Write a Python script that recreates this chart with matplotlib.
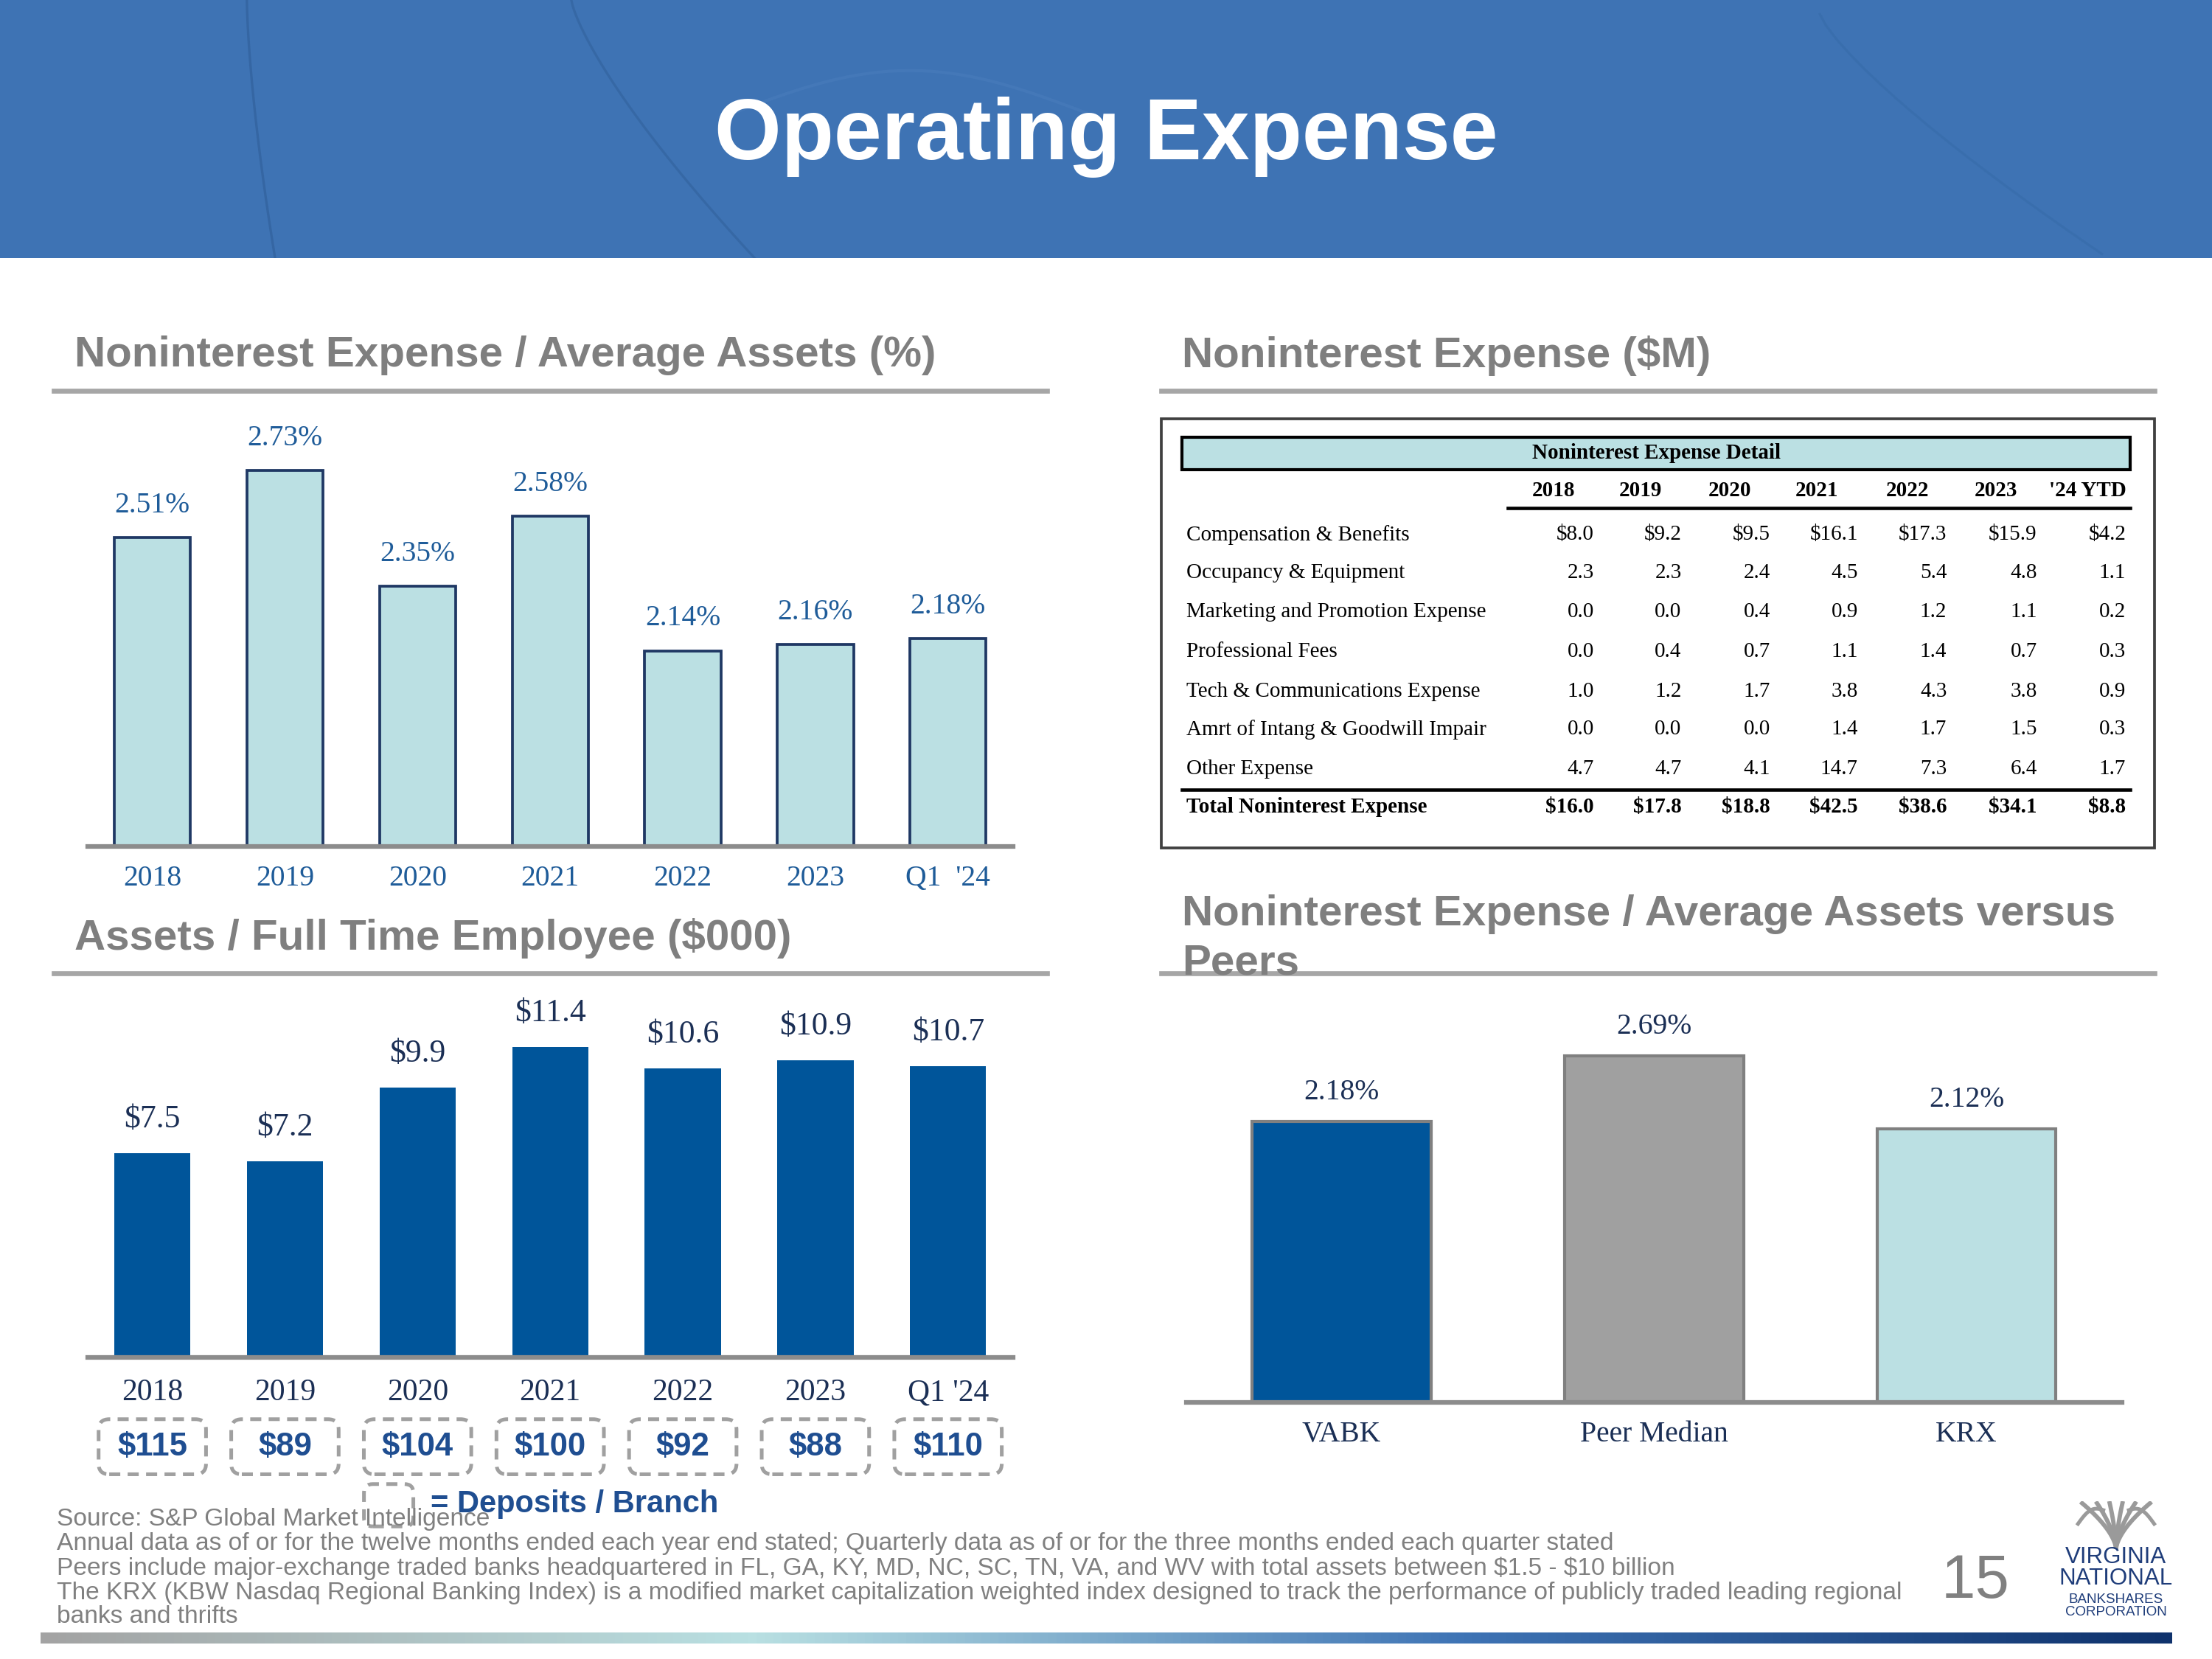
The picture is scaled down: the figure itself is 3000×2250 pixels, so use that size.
import numpy as np
import matplotlib.pyplot as plt
from matplotlib.patches import Rectangle, FancyBboxPatch
from matplotlib.lines import Line2D
from matplotlib.colors import LinearSegmentedColormap

plt.rcParams['text.parse_math'] = False

# ---- data ----
years = ['2018', '2019', '2020', '2021', '2022', '2023', "Q1  '24"]
nie_ratio = [2.51, 2.73, 2.35, 2.58, 2.14, 2.16, 2.18]

years_fte = ['2018', '2019', '2020', '2021', '2022', '2023', "Q1 '24"]
assets_fte = [7.5, 7.2, 9.9, 11.4, 10.6, 10.9, 10.7]
deposits_branch = [115, 89, 104, 100, 92, 88, 110]

peers = ['VABK', 'Peer Median', 'KRX']
peer_ratio = [2.18, 2.69, 2.12]

tbl_cols = ['2018', '2019', '2020', '2021', '2022', '2023', "'24 YTD"]
tbl_labels = ['Compensation & Benefits', 'Occupancy & Equipment',
              'Marketing and Promotion Expense', 'Professional Fees',
              'Tech & Communications Expense', 'Amrt of Intang & Goodwill Impair',
              'Other Expense']
comp = [8.0, 9.2, 9.5, 16.1, 17.3, 15.9, 4.2]
occ = [2.3, 2.3, 2.4, 4.5, 5.4, 4.8, 1.1]
mkt = [0.0, 0.0, 0.4, 0.9, 1.2, 1.1, 0.2]
prof = [0.0, 0.4, 0.7, 1.1, 1.4, 0.7, 0.3]
tech = [1.0, 1.2, 1.7, 3.8, 4.3, 3.8, 0.9]
amrt = [0.0, 0.0, 0.0, 1.4, 1.7, 1.5, 0.3]
other = [4.7, 4.7, 4.1, 14.7, 7.3, 6.4, 1.7]
total = [16.0, 17.8, 18.8, 42.5, 38.6, 34.1, 8.8]

footnotes = [
    'Source: S&P Global Market Intelligence',
    'Annual data as of or for the twelve months ended each year end stated; Quarterly data as of or for the three months ended each quarter stated',
    'Peers include major-exchange traded banks headquartered in FL, GA, KY, MD, NC, SC, TN, VA, and WV with total assets between $1.5 - $10 billion',
    'The KRX (KBW Nasdaq Regional Banking Index) is a modified market capitalization weighted index designed to track the performance of publicly traded leading regional',
    'banks and thrifts',
]

# ---- layout helpers (grid of 1568 x 1176) ----
W, H = 1568, 1176
def fx(x): return x / W
def fy(y): return 1 - y / H
def box(x0, y0, x1, y1): return [x0 / W, 1 - y1 / H, (x1 - x0) / W, (y1 - y0) / H]

SANS = 'Liberation Sans'
SERIF = 'Liberation Serif'
GRAY_T = '#7f7f7f'
TEAL = '#bbe0e3'
NAVY = '#00559a'
DARK = '#1b2f55'

fig = plt.figure(figsize=(10, 7.5), dpi=300, facecolor='white')

def hline(x0, x1, y, color, lw):
    fig.add_artist(Line2D([fx(x0), fx(x1)], [fy(y), fy(y)], color=color, lw=lw))

# header band
ax_h = fig.add_axes(box(0, 0, W, 183))
ax_h.add_patch(Rectangle((0, 0), W, 183, color='#3e73b4'))
t = np.linspace(0, 1, 50)
ax_h.plot(175 + 20 * t ** 1.5, 183 * t, color='#2f5e98', lw=0.8, alpha=0.6)
ax_h.plot(405 + 130 * t ** 1.3, 183 * t, color='#2f5e98', lw=0.8, alpha=0.5)
ax_h.plot(1290 + 200 * t, 10 + 170 * t ** 0.8, color='#356aa8', lw=0.8, alpha=0.5)
ax_h.plot(520 + 250 * t, 80 - 30 * np.sin(np.pi * t), color='#4a7dbd', lw=1.0, alpha=0.5)
ax_h.set_xlim(0, W)
ax_h.set_ylim(183, 0)
ax_h.set_axis_off()
fig.text(0.5, fy(97), 'Operating Expense', ha='center', va='center', fontsize=28,
         weight='bold', color='white', family=SANS)

# section titles
fig.text(fx(53), fy(252), 'Noninterest Expense / Average Assets (%)', va='center',
         fontsize=14, weight='bold', color=GRAY_T, family=SANS)
hline(38, 742, 277, '#a6a6a6', 1.6)
fig.text(fx(838), fy(252), 'Noninterest Expense ($M)', va='center',
         fontsize=14, weight='bold', color=GRAY_T, family=SANS)
hline(823, 1527, 277, '#a6a6a6', 1.6)
fig.text(fx(53), fy(665), 'Assets / Full Time Employee ($000)', va='center',
         fontsize=14, weight='bold', color=GRAY_T, family=SANS)
hline(38, 742, 690, '#a6a6a6', 1.6)
fig.text(fx(838), fy(648), 'Noninterest Expense / Average Assets versus', va='center',
         fontsize=14, weight='bold', color=GRAY_T, family=SANS)
fig.text(fx(838), fy(683), 'Peers', va='center',
         fontsize=14, weight='bold', color=GRAY_T, family=SANS)
hline(823, 1527, 690, '#a6a6a6', 1.6)

def style_axes(ax):
    for s in ['top', 'left', 'right']:
        ax.spines[s].set_visible(False)
    ax.spines['bottom'].set_color('#8c8c8c')
    ax.spines['bottom'].set_linewidth(1.5)
    ax.set_yticks([])
    ax.patch.set_alpha(0)

# chart 1: noninterest expense / average assets
ax1 = fig.add_axes(box(62, 300, 718, 600))
x = np.arange(len(years))
ax1.bar(x, nie_ratio, width=0.574, color=TEAL, edgecolor='#1f3864', linewidth=0.9)
ax1.set_xlim(-0.489, 6.489)
ax1.set_ylim(1.5, 2.884)
style_axes(ax1)
ax1.set_xticks(x, years)
ax1.tick_params(axis='x', length=0, pad=6, labelsize=9.5, labelcolor='#1f5c99')
for lb in ax1.get_xticklabels():
    lb.set_family(SERIF)
for xi, v in zip(x, nie_ratio):
    ax1.annotate(f'{v:.2f}%', (xi, v), xytext=(0, 10.5), textcoords='offset points',
                 ha='center', va='center', fontsize=9.5, color='#1f5c99', family=SERIF)

# chart 2: assets / FTE
ax2 = fig.add_axes(box(62, 700, 718, 962))
ax2.bar(x, assets_fte, width=0.574, color=NAVY)
ax2.set_xlim(-0.489, 6.489)
ax2.set_ylim(0, 13.58)
style_axes(ax2)
ax2.set_xticks(x, years_fte)
ax2.tick_params(axis='x', length=0, pad=7, labelsize=10, labelcolor=DARK)
for lb in ax2.get_xticklabels():
    lb.set_family(SERIF)
for xi, v in zip(x, assets_fte):
    ax2.annotate(f'${v:.1f}', (xi, v), xytext=(0, 11), textcoords='offset points',
                 ha='center', va='center', fontsize=10.5, color=DARK, family=SERIF)
tr = ax2.get_xaxis_transform()
for xi, d in zip(x, deposits_branch):
    ax2.add_patch(FancyBboxPatch((xi - 0.405, -0.317), 0.81, 0.149,
                                 boxstyle='round,pad=0,rounding_size=0.08',
                                 mutation_aspect=0.358, transform=tr, fill=False,
                                 ec='#a0a0a0', ls=(0, (3, 2)), lw=1.2, clip_on=False))
    ax2.text(xi, -0.2425, f'${d}', transform=tr, ha='center', va='center',
             fontsize=10.5, weight='bold', color='#1f4e91', family=SANS)

fig.add_artist(FancyBboxPatch((fx(258), fy(1082)), fx(293) - fx(258), fy(1052) - fy(1082),
                              boxstyle='round,pad=0,rounding_size=0.004',
                              mutation_aspect=1.3, transform=fig.transFigure, fill=False,
                              ec='#a0a0a0', ls=(0, (3, 2)), lw=1.2))
fig.text(fx(305), fy(1066), '= Deposits / Branch', va='center', fontsize=10,
         weight='bold', color='#1f4e91', family=SANS)

# chart 3: versus peers
ax3 = fig.add_axes(box(841, 700, 1504, 994))
xp = np.arange(len(peers))
ax3.bar(xp, peer_ratio, width=0.573, color=[NAVY, '#a0a0a0', TEAL],
        edgecolor='#808080', linewidth=1)
ax3.set_xlim(-0.497, 2.497)
ax3.set_ylim(0, 3.22)
style_axes(ax3)
ax3.set_xticks(xp, peers)
ax3.tick_params(axis='x', length=0, pad=6, labelsize=9.5, labelcolor=DARK)
for lb in ax3.get_xticklabels():
    lb.set_family(SERIF)
for xi, v in zip(xp, peer_ratio):
    ax3.annotate(f'{v:.2f}%', (xi, v), xytext=(0, 9.5), textcoords='offset points',
                 ha='center', va='center', fontsize=9.5, color=DARK, family=SERIF)

# table
fig.add_artist(Rectangle((fx(823), fy(601)), fx(1527) - fx(823), fy(297) - fy(601),
                         transform=fig.transFigure, fill=False, ec='#404040', lw=0.9))
fig.add_artist(Rectangle((fx(838), fy(333)), fx(1510) - fx(838), fy(310) - fy(333),
                         transform=fig.transFigure, fc=TEAL, ec='black', lw=1))
fig.text(fx(1174), fy(321), 'Noninterest Expense Detail', ha='center', va='center',
         fontsize=7, weight='bold', family=SERIF)
col_centers = [1101, 1163, 1226, 1288, 1352, 1415, 1480]
col_rights = [1130, 1192, 1255, 1317, 1380, 1444, 1507]
for c, cx in zip(tbl_cols, col_centers):
    fig.text(fx(cx), fy(348), c, ha='center', va='center', fontsize=7,
             weight='bold', family=SERIF)
hline(1069, 1510, 360, 'black', 1.1)
row_y = [379, 406, 434, 462, 490, 517, 545]
rows = [comp, occ, mkt, prof, tech, amrt, other]
for i, (lab, vals, ry) in enumerate(zip(tbl_labels, rows, row_y)):
    fig.text(fx(841), fy(ry), lab, va='center', fontsize=7, family=SERIF)
    for v, rx in zip(vals, col_rights):
        s = f'${v:.1f}' if i == 0 else f'{v:.1f}'
        fig.text(fx(rx), fy(ry), s, ha='right', va='center', fontsize=7, family=SERIF)
hline(838, 1510, 560, 'black', 1.1)
fig.text(fx(841), fy(572), 'Total Noninterest Expense', va='center', fontsize=7,
         weight='bold', family=SERIF)
for v, rx in zip(total, col_rights):
    fig.text(fx(rx), fy(572), f'${v:.1f}', ha='right', va='center', fontsize=7,
             weight='bold', family=SERIF)

# footnotes
for s, yy in zip(footnotes, [1077, 1094, 1112, 1129, 1146]):
    fig.text(fx(40), fy(yy), s, va='center', fontsize=8.05, color='#808080', family=SANS)

fig.text(fx(1400), fy(1121), '15', ha='center', va='center', fontsize=20,
         color='#808080', family=SANS)

# logo
ax_l = fig.add_axes(box(1470, 1064, 1530, 1098))
tt = np.linspace(0, 1, 40)
for s in [-0.8, -0.45, -0.15, 0.15, 0.45, 0.8]:
    ax_l.plot(s * tt ** 1.6, tt, color='#9a9a9a', lw=1.4)
for sgn in [-1, 1]:
    ax_l.plot(sgn * (0.3 + 0.6 * tt), 0.85 + 0.15 * np.sin(np.pi * tt) - 0.3 * tt,
              color='#9a9a9a', lw=1.2)
ax_l.set_xlim(-1, 1)
ax_l.set_ylim(0, 1.05)
ax_l.set_axis_off()
fig.text(fx(1500), fy(1104), 'VIRGINIA', ha='center', va='center', fontsize=7.5,
         color='#1f3d7a', family=SANS)
fig.text(fx(1500), fy(1119), 'NATIONAL', ha='center', va='center', fontsize=7.5,
         color='#1f3d7a', family=SANS)
fig.text(fx(1500), fy(1134), 'BANKSHARES', ha='center', va='center', fontsize=4.5,
         color='#1f3d7a', family=SANS)
fig.text(fx(1500), fy(1143), 'CORPORATION', ha='center', va='center', fontsize=4.5,
         color='#1f3d7a', family=SANS)

# gradient strip at bottom
cmap = LinearSegmentedColormap.from_list('strip', ['#a3a3a3', '#b9e0e2', '#3f74b5', '#0f326c'])
ax_g = fig.add_axes(box(29, 1157, 1540, 1165))
ax_g.imshow(np.linspace(0, 1, 512)[None, :], aspect='auto', cmap=cmap)
ax_g.set_axis_off()

fig.savefig('out.png', dpi=300, facecolor='white')
